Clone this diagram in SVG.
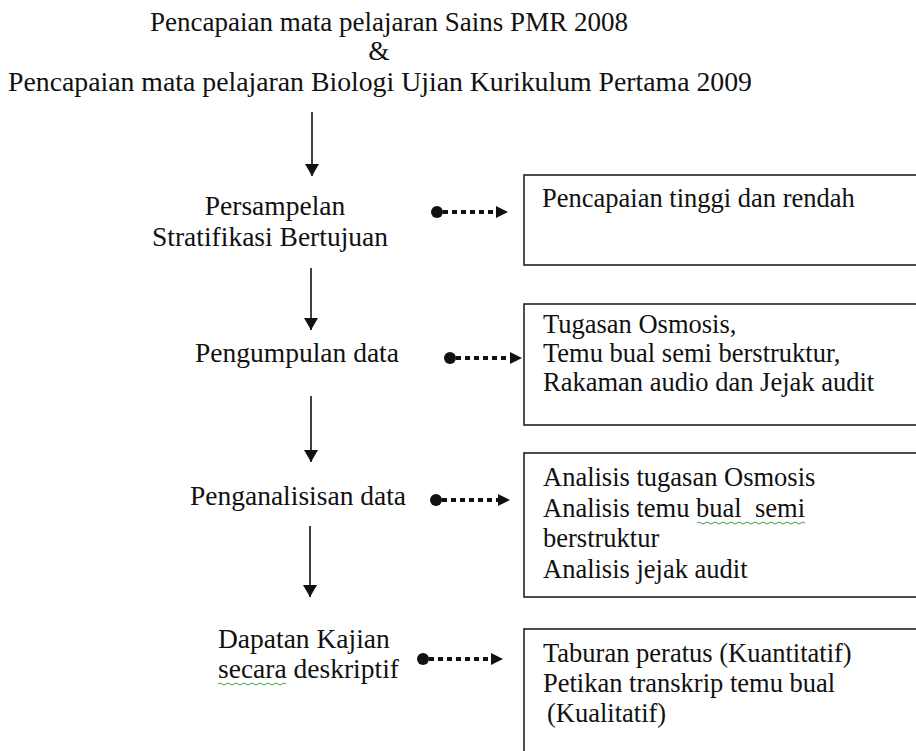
<svg xmlns="http://www.w3.org/2000/svg" width="916" height="751" viewBox="0 0 916 751">
<style>
  text { font-family: "Liberation Serif", "Times New Roman", serif; fill: #111; }
  .t { font-size: 27.5px; }
  .b { font-size: 26.5px; white-space: pre; }
  .box { fill: #fff; stroke: #222; stroke-width: 1.6; }
  .v { stroke: #111; stroke-width: 1.6; fill: none; }
  .dot { stroke: #111; stroke-width: 4; stroke-dasharray: 5 4; fill: none; }
  .wavy { stroke: #3aa33a; stroke-width: 1; fill: none; }
</style>
<defs>
  <marker id="ah" markerWidth="12" markerHeight="14" refX="12" refY="7" orient="auto" markerUnits="userSpaceOnUse">
    <path d="M0,0 L12,7 L0,14 Z" fill="#111"/>
  </marker>
</defs>
<rect width="916" height="751" fill="#fff"/>

<g id="title">
  <text class="t" x="150" y="31" textLength="478" lengthAdjust="spacingAndGlyphs">Pencapaian mata pelajaran Sains PMR 2008</text>
  <text class="t" x="379" y="60" text-anchor="middle">&amp;</text>
  <text class="t" x="8" y="91" textLength="744" lengthAdjust="spacingAndGlyphs">Pencapaian mata pelajaran Biologi Ujian Kurikulum Pertama 2009</text>
</g>

<g id="step1">
  <text class="t" x="275" y="215" text-anchor="middle">Persampelan</text>
  <text class="t" x="270" y="246" text-anchor="middle">Stratifikasi Bertujuan</text>
</g>
<g id="step2">
  <text class="t" x="297" y="362" text-anchor="middle">Pengumpulan data</text>
</g>
<g id="step3">
  <text class="t" x="298" y="505" text-anchor="middle">Penganalisisan data</text>
</g>
<g id="step4">
  <text class="t" x="218" y="648">Dapatan Kajian</text>
  <text class="t" x="218" y="678">secara deskriptif</text>
  <path class="wavy" d="M218,684 q2,-2 4,0 t4,0 t4,0 t4,0 t4,0 t4,0 t4,0 t4,0 t4,0 t4,0 t4,0 t4,0 t4,0 t4,0 t4,0 t4,0 t4,0"/>
</g>

<g id="box1">
  <rect class="box" x="524" y="175" width="420" height="90"/>
  <text class="b" x="542" y="207">Pencapaian tinggi dan rendah</text>
</g>
<g id="box2">
  <rect class="box" x="524" y="304" width="420" height="121"/>
  <text class="b" x="543" y="333">Tugasan Osmosis,</text>
  <text class="b" x="543" y="362">Temu bual semi berstruktur,</text>
  <text class="b" x="543" y="391">Rakaman audio dan Jejak audit</text>
</g>
<g id="box3">
  <rect class="box" x="524" y="453" width="420" height="144"/>
  <text class="b" x="543" y="486">Analisis tugasan Osmosis</text>
  <text class="b" x="543" y="517">Analisis temu bual  semi</text>
  <text class="b" x="543" y="547">berstruktur</text>
  <text class="b" x="543" y="578">Analisis jejak audit</text>
  <path class="wavy" d="M697,523 q2,-2 4,0 t4,0 t4,0 t4,0 t4,0 t4,0 t4,0 t4,0 t4,0 t4,0 t4,0 t4,0 t4,0 t4,0 t4,0 t4,0 t4,0 t4,0 t4,0 t4,0 t4,0 t4,0 t4,0 t4,0 t4,0 t4,0 t4,0"/>
</g>
<g id="box4">
  <rect class="box" x="524" y="629" width="420" height="140"/>
  <text class="b" x="543" y="662">Taburan peratus (Kuantitatif)</text>
  <text class="b" x="543" y="692">Petikan transkrip temu bual</text>
  <text class="b" x="547" y="722">(Kualitatif)</text>
</g>

<g id="connectors">
  <line class="v" x1="312" y1="112" x2="312" y2="176" marker-end="url(#ah)"/>
  <line class="v" x1="311" y1="268" x2="311" y2="330" marker-end="url(#ah)"/>
  <line class="v" x1="311" y1="396" x2="311" y2="462" marker-end="url(#ah)"/>
  <line class="v" x1="310" y1="526" x2="310" y2="597" marker-end="url(#ah)"/>

  <circle cx="437" cy="212" r="6" fill="#111"/>
  <line class="dot" x1="443" y1="212" x2="497" y2="212"/>
  <path d="M496,206 L508,212 L496,218 Z" fill="#111"/>

  <circle cx="450" cy="358" r="6" fill="#111"/>
  <line class="dot" x1="456" y1="358" x2="511" y2="358"/>
  <path d="M510,352 L522,358 L510,364 Z" fill="#111"/>

  <circle cx="436" cy="500" r="6" fill="#111"/>
  <line class="dot" x1="442" y1="500" x2="499" y2="500"/>
  <path d="M498,494 L510,500 L498,506 Z" fill="#111"/>

  <circle cx="423" cy="659" r="6" fill="#111"/>
  <line class="dot" x1="429" y1="659" x2="492" y2="659"/>
  <path d="M491,653 L503,659 L491,665 Z" fill="#111"/>
</g>
</svg>
